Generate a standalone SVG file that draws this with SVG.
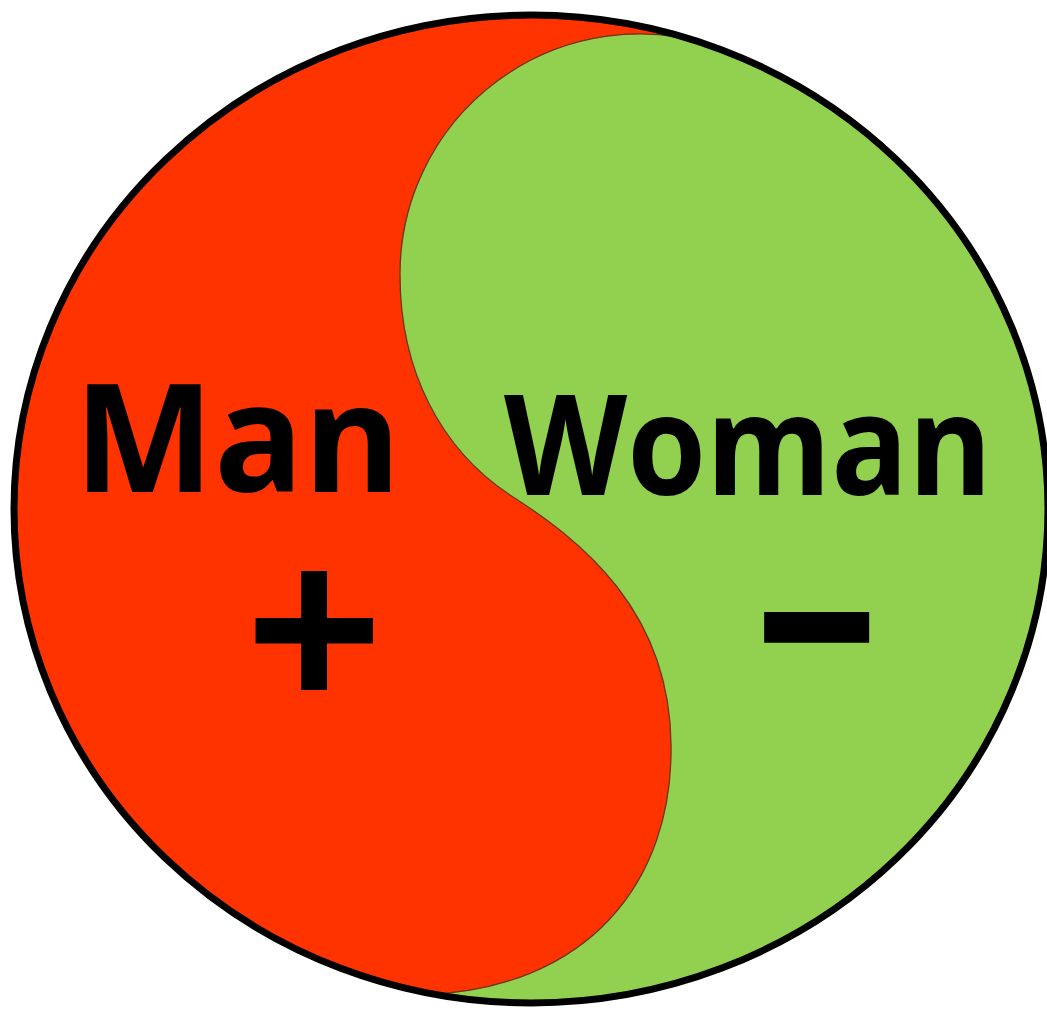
<svg xmlns="http://www.w3.org/2000/svg" width="1047" height="1009" viewBox="0 0 1047 1009">
  <style>
    .label { font-family: "Open Sans", "Liberation Sans", sans-serif; font-weight: 700; fill: #000; }
    .sign { font-family: "Liberation Sans", Arial, sans-serif; font-weight: 700; fill: #000; }
  </style>
  <defs>
    <clipPath id="disc">
      <ellipse cx="531" cy="509" rx="517" ry="494"/>
    </clipPath>
  </defs>
  <rect x="0" y="0" width="1047" height="1009" fill="#ffffff"/>
  <g id="yin-yang">
    <ellipse id="man-half" cx="531" cy="509" rx="517" ry="494" fill="#FF3300"/>
    <g clip-path="url(#disc)">
      <path id="woman-half" fill="#92D050" d="M 712,45 A 240 240 0 0 0 400,275 C 400,370 440,450 513,497 C 580,540 670,610 671,745 C 673,880 590,990 420,995 L 400,1060 L 1100,1060 L 1100,-40 L 780,-40 Z"/>
      <path id="divider" fill="none" stroke="#6a3510" stroke-width="1.3" d="M 712,45 A 240 240 0 0 0 400,275 C 400,370 440,450 513,497 C 580,540 670,610 671,745 C 673,880 590,990 420,995"/>
    </g>
    <ellipse id="outline" cx="531" cy="509" rx="517" ry="494" fill="none" stroke="#000" stroke-width="7"/>
  </g>
  <g id="man">
    <text class="label" x="74" y="492" font-size="150" textLength="327" lengthAdjust="spacingAndGlyphs">Man</text>
    <text class="sign" x="314" y="708" font-size="234" text-anchor="middle">+</text>
  </g>
  <g id="woman">
    <text class="label" x="504" y="495" font-size="140" textLength="488" lengthAdjust="spacingAndGlyphs">Woman</text>
    <g transform="translate(748 625) scale(0.94 0.585)">
      <text class="sign" x="0" y="118" font-size="440">-</text>
    </g>
  </g>
</svg>
